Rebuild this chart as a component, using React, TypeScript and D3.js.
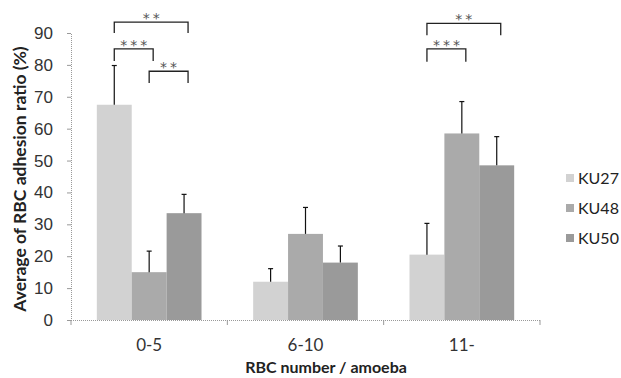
import React, { useEffect, useRef } from 'react';
import * as d3 from 'd3';

const categories = ['0-5', '6-10', '11-'];
const seriesNames = ['KU27', 'KU48', 'KU50'];
const ku27 = [67.5, 12, 20.5];
const ku48 = [15, 27, 58.5];
const ku50 = [33.5, 18, 48.5];
const ku27Err = [12.3, 4.1, 9.8];
const ku48Err = [6.6, 8.3, 10];
const ku50Err = [5.9, 5.2, 9];
const yTicks = [0, 10, 20, 30, 40, 50, 60, 70, 80, 90];

// significance brackets: group, from series, to series, bracket level, leg bottom, label
const sigGroup = ['0-5', '0-5', '0-5', '11-', '11-'];
const sigFrom = ['KU27', 'KU27', 'KU48', 'KU27', 'KU27'];
const sigTo = ['KU50', 'KU48', 'KU50', 'KU50', 'KU48'];
const sigTop = [93.4, 85, 78, 93, 85];
const sigBottom = [90, 81.2, 74.3, 89.3, 81];
const sigLabel = ['**', '***', '**', '**', '***'];

const colors = ['#d2d2d2', '#aaaaaa', '#9a9a9a'];

const App: React.FC = () => {
    const ref = useRef<SVGSVGElement | null>(null);

    useEffect(() => {
        if (!ref.current) return;
        const width = 621;
        const height = 378;
        const values = [ku27, ku48, ku50];
        const errs = [ku27Err, ku48Err, ku50Err];

        const svg = d3.select(ref.current)
            .attr('width', width)
            .attr('height', height)
            .style('font-family', 'Lato, sans-serif');
        svg.selectAll('*').remove();

        const x0 = d3.scaleBand().domain(categories).range([71, 540]).padding(0);
        const x1 = d3.scaleBand().domain(seriesNames).range([0, x0.bandwidth()])
            .paddingInner(0).paddingOuter(0.74);
        const y = d3.scaleLinear().domain([0, 90]).range([320, 33]);

        // y axis
        const yAxis = svg.append('g')
            .attr('transform', 'translate(71,0)')
            .call(d3.axisLeft(y).tickValues(yTicks).tickSize(4).tickPadding(14));
        yAxis.select('.domain').attr('stroke', '#999').attr('stroke-dasharray', '1,1');
        yAxis.selectAll('.tick line').attr('stroke', '#999');
        yAxis.selectAll('.tick text')
            .style('font-size', '17px').attr('fill', '#333');

        // bars
        seriesNames.forEach((s, si) => {
            svg.append('g').selectAll('rect')
                .data(values[si])
                .enter()
                .append('rect')
                .attr('x', (d, i) => x0(categories[i])! + x1(s)!)
                .attr('y', d => y(d))
                .attr('width', x1.bandwidth())
                .attr('height', d => y(0) - y(d))
                .attr('fill', colors[si]);
        });

        // error bars
        seriesNames.forEach((s, si) => {
            const g = svg.append('g').attr('stroke', '#111').attr('stroke-width', 1.2);
            values[si].forEach((v, i) => {
                const cx = x0(categories[i])! + x1(s)! + x1.bandwidth() / 2;
                g.append('line').attr('x1', cx).attr('x2', cx)
                    .attr('y1', y(v)).attr('y2', y(v + errs[si][i]));
                g.append('line').attr('x1', cx - 2.5).attr('x2', cx + 2.5)
                    .attr('y1', y(v + errs[si][i])).attr('y2', y(v + errs[si][i]));
            });
        });

        // x axis
        const xAxis = svg.append('g')
            .attr('transform', `translate(0,${y(0)})`);
        xAxis.append('line')
            .attr('x1', 71).attr('x2', 540).attr('y1', 0.5).attr('y2', 0.5)
            .attr('stroke', '#999').attr('stroke-dasharray', '1,1');
        [...categories.map(c => x0(c)!), 540].forEach(t => {
            xAxis.append('line').attr('x1', t).attr('x2', t).attr('y1', 0).attr('y2', 5)
                .attr('stroke', '#999');
        });
        xAxis.selectAll('text.cat')
            .data(categories)
            .enter()
            .append('text')
            .attr('class', 'cat')
            .attr('x', d => x0(d)! + x0.bandwidth() / 2)
            .attr('y', 31)
            .attr('text-anchor', 'middle')
            .style('font-size', '17px')
            .attr('fill', '#333')
            .text(d => d);

        // axis titles
        svg.append('text')
            .attr('x', 326).attr('y', 373)
            .attr('text-anchor', 'middle')
            .style('font-size', '16px').style('font-weight', 'bold')
            .attr('fill', '#222')
            .text('RBC number / amoeba');
        svg.append('text')
            .attr('transform', 'translate(26,179) rotate(-90)')
            .attr('text-anchor', 'middle')
            .style('font-size', '17.5px').style('font-weight', 'bold')
            .attr('fill', '#222')
            .text('Average of RBC adhesion ratio (%)');

        // significance brackets
        const sg = svg.append('g');
        sigLabel.forEach((lab, i) => {
            const xa = x0(sigGroup[i])! + x1(sigFrom[i])! + x1.bandwidth() / 2;
            const xb = x0(sigGroup[i])! + x1(sigTo[i])! + x1.bandwidth() / 2 + 4;
            sg.append('path')
                .attr('d', `M${xa},${y(sigBottom[i])}V${y(sigTop[i])}H${xb}V${y(sigBottom[i])}`)
                .attr('fill', 'none').attr('stroke', '#222').attr('stroke-width', 1.3);
            sg.append('text')
                .attr('x', (xa + xb) / 2 + 1.5).attr('y', y(sigTop[i]) + 1)
                .attr('text-anchor', 'middle')
                .style('font-family', '"DejaVu Sans", sans-serif')
                .style('font-size', '14px')
                .style('letter-spacing', '3px')
                .attr('fill', '#555')
                .text(lab);
        });

        // legend
        const lg = svg.append('g');
        seriesNames.forEach((s, i) => {
            const ly = 178 + i * 30;
            lg.append('rect').attr('x', 566).attr('y', ly - 4).attr('width', 8).attr('height', 8)
                .attr('fill', colors[i]);
            lg.append('text').attr('x', 578).attr('y', ly + 6)
                .style('font-size', '16px').attr('fill', '#222').text(s);
        });
    }, []);

    return <svg ref={ref} style={{ position: 'absolute', left: 0, top: 0 }} />;
};

export default App;
